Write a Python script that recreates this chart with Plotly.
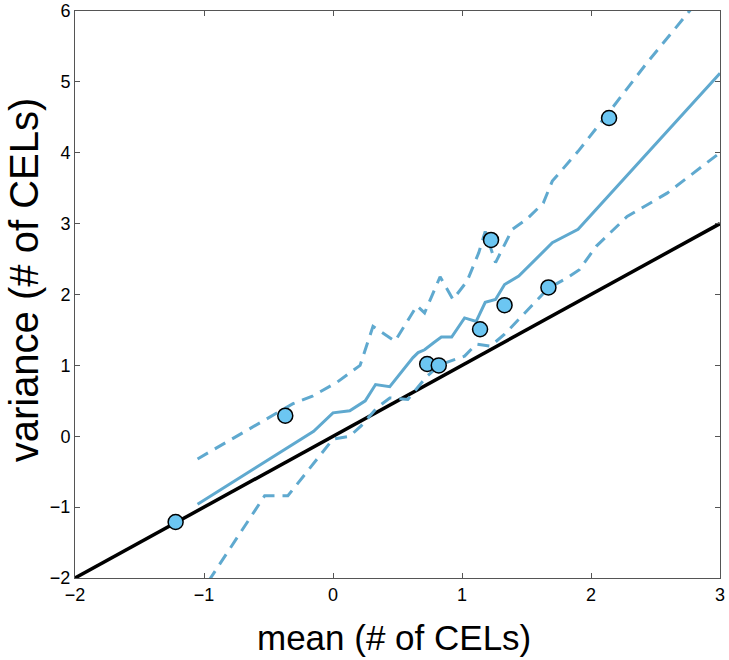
import plotly.graph_objects as go

# identity reference line
ref_x = [-2, 3]
ref_y = [-2, 3]

# mean model line
mean_x = [-1.05, -0.15, 0.0, 0.13, 0.25, 0.33, 0.44, 0.545, 0.62, 0.66, 0.71, 0.78, 0.84, 0.92,
          1.02, 1.11, 1.18, 1.26, 1.33, 1.44, 1.54, 1.70, 1.90, 3.0]
mean_y = [-0.96, 0.07, 0.33, 0.36, 0.50, 0.73, 0.70, 0.94, 1.11, 1.18, 1.22, 1.32, 1.40, 1.40,
          1.67, 1.62, 1.89, 1.93, 2.14, 2.26, 2.44, 2.73, 2.92, 5.12]

# upper bound (dashed)
upper_x = [-1.05, -0.31, -0.155, 0.03, 0.21, 0.31, 0.48, 0.65, 0.71, 0.83, 0.93, 1.04, 1.13,
           1.18, 1.26, 1.39, 1.50, 1.63, 1.70, 1.90, 2.13, 2.43, 2.80]
upper_y = [-0.32, 0.46, 0.57, 0.76, 1.00, 1.55, 1.34, 1.84, 1.74, 2.25, 1.93, 2.19, 2.59,
           2.89, 2.45, 2.92, 3.06, 3.29, 3.60, 4.02, 4.55, 5.26, 6.08]

# lower bound (dashed)
lower_x = [-1.05, -0.95, -0.53, -0.35, 0.0, 0.13, 0.22, 0.34, 0.44, 0.58, 0.73, 0.83, 1.02, 1.11,
           1.22, 1.33, 1.45, 1.67, 1.81, 1.91, 2.04, 2.28, 2.59, 3.0]
lower_y = [-2.28, -2.0, -0.84, -0.84, -0.04, 0.0, 0.15, 0.40, 0.54, 0.52, 0.85, 1.01, 1.13, 1.30,
           1.27, 1.44, 1.67, 2.09, 2.23, 2.35, 2.68, 3.10, 3.43, 4.0]

# observed points
pts_x = [-1.22, -0.37, 0.73, 0.82, 1.14, 1.33, 1.67, 1.225, 2.14]
pts_y = [-1.21, 0.29, 1.02, 1.00, 1.51, 1.85, 2.10, 2.77, 4.49]

tick_vals_x = [-2, -1, 0, 1, 2, 3]
tick_vals_y = [-2, -1, 0, 1, 2, 3, 4, 5, 6]

x_title = "mean (# of CELs)"
y_title = "variance (# of CELs)"

font_family = "Liberation Sans, Arial, sans-serif"
blue = "#5FA9CF"
fig = go.Figure()
fig.add_trace(go.Scatter(x=ref_x, y=ref_y, mode="lines",
                         line=dict(color="black", width=3.5), showlegend=False))
fig.add_trace(go.Scatter(x=upper_x, y=upper_y, mode="lines",
                         line=dict(color=blue, width=3, dash="12px,8px"), showlegend=False))
fig.add_trace(go.Scatter(x=lower_x, y=lower_y, mode="lines",
                         line=dict(color=blue, width=3, dash="12px,8px"), showlegend=False))
fig.add_trace(go.Scatter(x=mean_x, y=mean_y, mode="lines",
                         line=dict(color=blue, width=3), showlegend=False))
fig.add_trace(go.Scatter(x=pts_x, y=pts_y, mode="markers",
                         marker=dict(size=15, color="#6CC6F2", line=dict(color="black", width=1.5)),
                         showlegend=False))

axis_common = dict(showgrid=False, zeroline=False, showline=True, linecolor="#555555", linewidth=1,
                   mirror="ticks", ticks="inside", ticklen=5, tickcolor="#555555", tickwidth=1,
                   automargin=False,
                   tickfont=dict(family=font_family, size=18, color="black"))

fig.update_layout(
    width=729, height=660,
    margin=dict(l=75, r=9, t=11, b=82),
    plot_bgcolor="white", paper_bgcolor="white",
    xaxis=dict(range=[-2, 3], tickvals=tick_vals_x, **axis_common),
    yaxis=dict(range=[-2, 6], tickvals=tick_vals_y, **axis_common),
    annotations=[
        dict(text=x_title, xref="paper", yref="paper", x=0.4946, y=0, xanchor="center",
             yanchor="top", yshift=-38, showarrow=False,
             font=dict(family=font_family, size=35, color="black")),
        dict(text=y_title, xref="paper", yref="paper", x=0, y=0.525, xanchor="center",
             yanchor="middle", xshift=-51, textangle=-90, showarrow=False,
             font=dict(family=font_family, size=40, color="black")),
    ],
)

fig.write_html("out.html", config={"displayModeBar": False},
               post_script="document.body.style.margin='0';document.body.style.overflow='hidden';")
